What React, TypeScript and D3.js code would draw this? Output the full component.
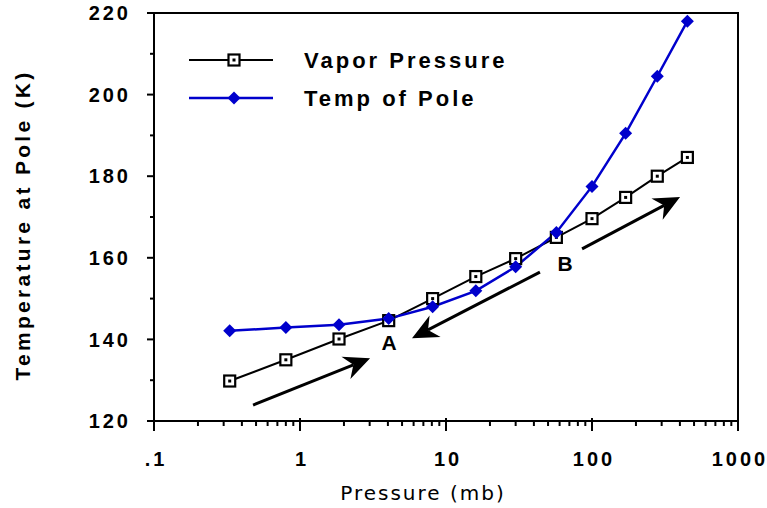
import React from 'react';
import * as d3 from 'd3';

const pressures = [0.33, 0.8, 1.85, 4.05, 8.1, 16, 30, 57, 100, 170, 280, 450];
const vaporTemps = [129.8, 135, 140.1, 144.6, 150, 155.4, 159.8, 165, 169.6, 174.8, 180, 184.6];
const poleTemps = [142.1, 142.9, 143.6, 145.1, 148, 151.9, 157.8, 166.2, 177.5, 190.5, 204.5, 218];

const xTicks = [0.1, 1, 10, 100, 1000];
const xTickLabels = ['.1', '1', '10', '100', '1000'];
const yTicks = [120, 140, 160, 180, 200, 220];
const yMinorTicks = [130, 150, 170, 190, 210];

// annotation arrows in data units: [tailP, tailT, tipP, tipT]
const arrows = [
    [0.477, 123.9, 3.02, 135.4],
    [44, 156.5, 5.85, 140.3],
    [85.5, 162.2, 401, 174.9],
];
const notes = [
    { text: 'A', p: 4.07, t: 139.2 },
    { text: 'B', p: 65.3, t: 158.5 },
];

const BLUE = '#0000cc';

const App = () => {
    const width = 767;
    const height = 508;
    const margin = { top: 13, right: 29, bottom: 87, left: 154 };
    const x = d3.scaleLog().domain([0.1, 1000]).range([margin.left, width - margin.right]);
    const y = d3.scaleLinear().domain([120, 220]).range([height - margin.bottom, margin.top]);

    const xMinor: number[] = [];
    [0.1, 1, 10, 100].forEach(d => {
        for (let k = 2; k <= 9; k++) xMinor.push(d * k);
    });

    const vaporData = pressures.map((p, i) => [p, vaporTemps[i]] as [number, number]);
    const poleData = pressures.map((p, i) => [p, poleTemps[i]] as [number, number]);
    const line = d3.line<[number, number]>().x(d => x(d[0])).y(d => y(d[1]));

    const bottom = y(120);
    const left = x(0.1);
    const right = x(1000);
    const bold = 'Liberation Sans, Arial, sans-serif';
    const tickFont = { fontFamily: bold, fontWeight: 'bold', fontSize: 20, letterSpacing: 3 };

    const square = (cx: number, cy: number, key: string | number) => (
        <g key={key}>
            <rect x={cx - 5.5} y={cy - 5.5} width={11} height={11} fill="white" stroke="black" strokeWidth={2.2} />
            <rect x={cx - 1.5} y={cy - 1.5} width={3} height={3} fill="black" />
        </g>
    );
    const diamond = (cx: number, cy: number, key: string | number) => (
        <path key={key} d={`M${cx},${cy - 6.5}L${cx + 6.5},${cy}L${cx},${cy + 6.5}L${cx - 6.5},${cy}Z`} fill={BLUE} />
    );

    const arrowPath = (a: number[]) => {
        const x0 = x(a[0]), y0 = y(a[1]), x1 = x(a[2]), y1 = y(a[3]);
        const ang = Math.atan2(y1 - y0, x1 - x0);
        const len = 26, half = 12, notch = 18;
        const ux = Math.cos(ang), uy = Math.sin(ang);
        const px = -uy, py = ux;
        const bx = x1 - ux * len, by = y1 - uy * len;
        const nx = x1 - ux * notch, ny = y1 - uy * notch;
        return {
            shaft: `M${x0},${y0}L${nx},${ny}`,
            head: `M${x1},${y1}L${bx + px * half},${by + py * half}L${nx},${ny}L${bx - px * half},${by - py * half}Z`,
        };
    };

    return (
        <svg width={width} height={height} style={{ display: 'block', position: 'absolute', left: 0, top: 0 }}>
            <rect width={width} height={height} fill="white" />
            {/* frame */}
            <rect x={left} y={margin.top} width={right - left} height={bottom - margin.top} fill="none" stroke="black" strokeWidth={2} />

            {/* y ticks */}
            {yTicks.map(t => (
                <g key={'y' + t}>
                    <line x1={left - 7} x2={left} y1={y(t)} y2={y(t)} stroke="black" strokeWidth={2} />
                    <text x={left - 23} y={y(t)} dy="0.36em" textAnchor="end" style={tickFont}>{t}</text>
                </g>
            ))}
            {yMinorTicks.map(t => (
                <line key={'ym' + t} x1={left - 4} x2={left} y1={y(t)} y2={y(t)} stroke="black" strokeWidth={2} />
            ))}

            {/* x ticks */}
            {xTicks.map((t, i) => (
                <g key={'x' + t}>
                    <line x1={x(t)} x2={x(t)} y1={bottom - 3} y2={bottom + 10} stroke="black" strokeWidth={2} />
                    <text x={x(t) + 2} y={bottom + 45} textAnchor="middle" style={tickFont}>{xTickLabels[i]}</text>
                </g>
            ))}
            {xMinor.map(t => (
                <line key={'xm' + t} x1={x(t)} x2={x(t)} y1={bottom} y2={bottom + 5} stroke="black" strokeWidth={2} />
            ))}

            {/* axis titles */}
            <text x={(left + right) / 2 - 23} y={500} textAnchor="middle"
                style={{ fontFamily: 'DejaVu Sans, sans-serif', fontSize: 20, letterSpacing: 2 }}>Pressure (mb)</text>
            <text transform={`translate(30,${(margin.top + bottom) / 2 + 8}) rotate(-90)`} textAnchor="middle"
                style={{ fontFamily: bold, fontWeight: 'bold', fontSize: 21, letterSpacing: 3.3 }}>Temperature at Pole (K)</text>

            {/* series */}
            <path d={line(vaporData) || ''} fill="none" stroke="black" strokeWidth={2} />
            <path d={line(poleData) || ''} fill="none" stroke={BLUE} strokeWidth={2.5} />
            {vaporData.map((d, i) => square(x(d[0]), y(d[1]), 'v' + i))}
            {poleData.map((d, i) => diamond(x(d[0]), y(d[1]), 'p' + i))}

            {/* annotations */}
            {arrows.map((a, i) => {
                const ap = arrowPath(a);
                return (
                    <g key={'a' + i}>
                        <path d={ap.shaft} stroke="black" strokeWidth={3} fill="none" />
                        <path d={ap.head} fill="black" />
                    </g>
                );
            })}
            {notes.map(n => (
                <text key={n.text} x={x(n.p)} y={y(n.t)} dy="0.36em" textAnchor="middle"
                    style={{ fontFamily: bold, fontWeight: 'bold', fontSize: 21 }}>{n.text}</text>
            ))}

            {/* legend */}
            <line x1={189} x2={273} y1={60} y2={60} stroke="black" strokeWidth={2} />
            {square(234, 60, 'lv')}
            <line x1={189} x2={273} y1={98} y2={98} stroke={BLUE} strokeWidth={2.5} />
            {diamond(234, 98, 'lp')}
            <text x={304} y={60} dy="0.36em" style={{ fontFamily: bold, fontWeight: 'bold', fontSize: 22, letterSpacing: 3 }}>Vapor Pressure</text>
            <text x={304} y={98} dy="0.36em" style={{ fontFamily: bold, fontWeight: 'bold', fontSize: 22, letterSpacing: 3 }}>Temp of Pole</text>
        </svg>
    );
};

export default App;
